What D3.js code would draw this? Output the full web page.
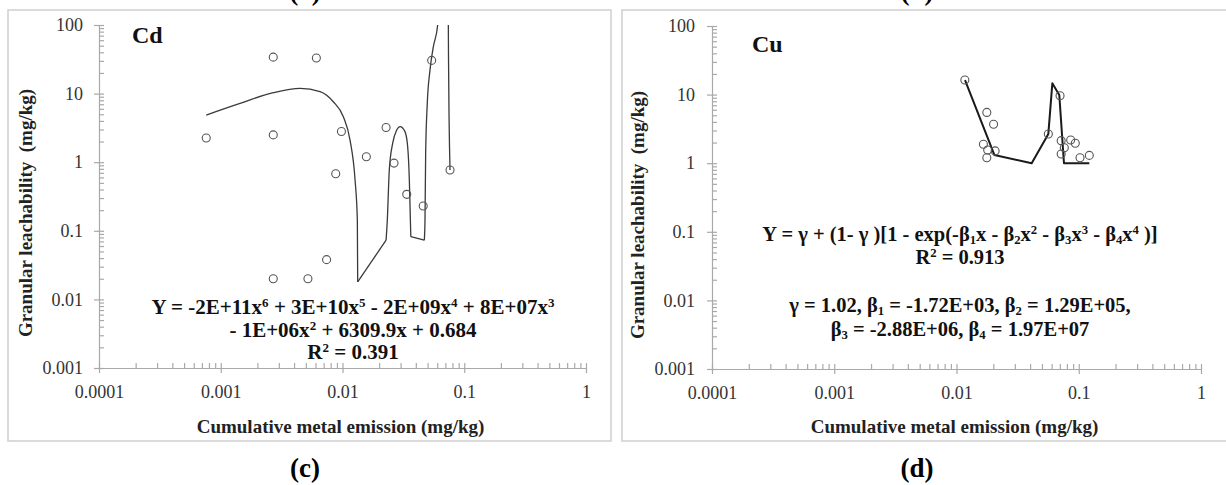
<!DOCTYPE html>
<html>
<head>
<meta charset="utf-8">
<script src="https://cdn.jsdelivr.net/npm/d3@7"></script>
<style>
  html, body { margin: 0; padding: 0; background: #fff; }
  svg { display: block; font-family: "Liberation Serif", "Times New Roman", serif; }
</style>
</head>
<body>
<svg id="chart" width="1226" height="485"></svg>
<script>
// ---- Cd: observed points (cumulative emission vs granular leachability, mg/kg)
const cdX = [0.00076, 0.0027, 0.0027, 0.0027, 0.0052, 0.0061, 0.0074, 0.0088,
             0.0098, 0.0157, 0.0228, 0.0265, 0.0337, 0.046, 0.054, 0.0764];
const cdY = [2.25, 2.5, 34, 0.02, 0.02, 33, 0.038, 0.68,
             2.8, 1.2, 3.2, 0.97, 0.34, 0.23, 30.5, 0.77];

// Cd polynomial trendline, in the three stretches where it stays positive
const cdFitA = [[0.00076, 4.87], [0.00144, 7.2], [0.0027, 10.3], [0.00448, 11.9],
                [0.00654, 10.7], [0.0084, 7.6], [0.01016, 4.6], [0.01153, 2.1],
                [0.01268, 0.55], [0.01324, 0.144], [0.01333, 0.018]];
const cdFitB = [[0.0228, 0.073], [0.02334, 0.144], [0.02423, 0.77], [0.02584, 1.9],
                [0.02787, 2.94], [0.0297, 3.3], [0.0326, 2.79], [0.0343, 1.68],
                [0.0354, 0.55], [0.0361, 0.144], [0.0364, 0.082]];
const cdFitC = [[0.047, 0.073], [0.0476, 0.144], [0.0482, 1.35], [0.0497, 7.2],
                [0.0523, 22], [0.0557, 48], [0.0605, 100], [0.064, 400],
                [0.071, 400], [0.074, 100], [0.0742, 38.6], [0.0751, 4.1], [0.0764, 0.77]];

// ---- Cu: observed points
const cuX = [0.0117, 0.0166, 0.0177, 0.0177, 0.018, 0.0201, 0.0207, 0.0564,
             0.0703, 0.0718, 0.0718, 0.0762, 0.0859, 0.0937, 0.1024, 0.122];
const cuY = [16.3, 1.89, 5.5, 1.2, 1.56, 3.69, 1.51, 2.67,
             9.6, 2.13, 1.36, 1.68, 2.18, 1.95, 1.2, 1.3];

// Cu model curve
const cuFit = [[0.01174, 16.3], [0.0204, 1.32], [0.0412, 1.0], [0.0564, 2.67],
               [0.0608, 14.6], [0.0693, 9.9], [0.0757, 1.0], [0.122, 1.0]];

// ---- Axis ticks
const xTickValues = [0.0001, 0.001, 0.01, 0.1, 1];
const xTickLabels = ["0.0001", "0.001", "0.01", "0.1", "1"];
const yTickValues = [0.001, 0.01, 0.1, 1, 10, 100];
const yTickLabels = ["0.001", "0.01", "0.1", "1", "10", "100"];

// ---- Text
const xTitle = "Cumulative metal emission (mg/kg)";
const yTitle = "Granular leachability  (mg/kg)";
const cdEquation = [
  "Y = -2E+11x^{6} + 3E+10x^{5} - 2E+09x^{4} + 8E+07x^{3}",
  "- 1E+06x^{2} + 6309.9x + 0.684",
  "R^{2} = 0.391"
];
const cuEquation = [
  "Y = γ + (1- γ )[1 - exp(-β_{1}x - β_{2}x^{2} - β_{3}x^{3} - β_{4}x^{4} )]",
  "R^{2} = 0.913",
  "",
  "γ = 1.02, β_{1} = -1.72E+03, β_{2} = 1.29E+05,",
  "β_{3} = -2.88E+06, β_{4} = 1.97E+07"
];

const svg = d3.select("#chart");

// minor ticks at 1..9 within each decade
function minorTicks(majors) {
  const out = [];
  for (let i = 0; i < majors.length - 1; i++)
    for (let k = 1; k <= 9; k++) out.push(majors[i] * k);
  out.push(majors[majors.length - 1]);
  return out;
}

// write a line with ^{sup} and _{sub} markup as tspans
function richText(textSel, str, fs) {
  const re = /(\^|_)\{([^}]*)\}/g;
  let last = 0, m, shift = 0;
  const add = (t, kind) => {
    if (!t) return;
    const target = kind === "^" ? -0.32 * fs : kind === "_" ? 0.14 * fs : 0;
    const ts = textSel.append("tspan").text(t).attr("dy", target - shift);
    if (kind) ts.attr("font-size", fs * 0.62);
    shift = target;
  };
  while ((m = re.exec(str)) !== null) {
    add(str.slice(last, m.index), null);
    add(m[2], m[1]);
    last = re.lastIndex;
  }
  add(str.slice(last), null);
}

function drawPanel(cfg) {
  const g = svg.append("g");

  // frame
  g.append("rect")
    .attr("x", cfg.box[0]).attr("y", cfg.box[1])
    .attr("width", cfg.box[2] - cfg.box[0]).attr("height", cfg.box[3] - cfg.box[1])
    .attr("fill", "none").attr("stroke", "#cfcfcf").attr("stroke-width", 1.5);

  const x = d3.scaleLog().domain([0.0001, 1]).range([cfg.left, cfg.right]);
  const y = d3.scaleLog().domain([0.001, 100]).range([cfg.bottom, cfg.top]);

  const axisColor = "#a9a9a9";
  const labelColor = "#333";

  // y axis: major ticks + labels on the outside, minor ticks inside
  const yMaj = g.append("g").attr("transform", `translate(${cfg.left},0)`)
    .call(d3.axisLeft(y).tickValues(yTickValues)
      .tickFormat((d, i) => yTickLabels[i]).tickSize(5).tickSizeOuter(0).tickPadding(cfg.yPad));
  const yMin = g.append("g").attr("transform", `translate(${cfg.left},0)`)
    .call(d3.axisRight(y).tickValues(minorTicks(yTickValues)).tickFormat("").tickSize(5).tickSizeOuter(0));
  yMin.select(".domain").remove();
  yMin.selectAll("text").remove();

  // x axis
  const xMaj = g.append("g").attr("transform", `translate(0,${cfg.bottom})`)
    .call(d3.axisBottom(x).tickValues(xTickValues)
      .tickFormat((d, i) => xTickLabels[i]).tickSize(5).tickSizeOuter(0).tickPadding(12));
  const xMin = g.append("g").attr("transform", `translate(0,${cfg.bottom})`)
    .call(d3.axisTop(x).tickValues(minorTicks(xTickValues)).tickFormat("").tickSize(5).tickSizeOuter(0));
  xMin.select(".domain").remove();
  xMin.selectAll("text").remove();

  [yMaj, yMin, xMaj, xMin].forEach(a => {
    a.selectAll("path,line").attr("stroke", axisColor).attr("stroke-width", 1.2);
    a.selectAll("text").attr("fill", labelColor).attr("font-size", 18)
      .attr("font-family", "Liberation Serif, serif");
  });

  // axis titles
  g.append("text")
    .attr("x", (cfg.left + cfg.right) / 2 - 2).attr("y", 433)
    .attr("text-anchor", "middle").attr("font-size", 19).attr("font-weight", "bold")
    .attr("fill", "#222").text(xTitle);
  g.append("text")
    .attr("transform", `translate(${cfg.yTitleX},${cfg.yTitleY}) rotate(-90)`)
    .attr("text-anchor", "middle").attr("font-size", 19).attr("font-weight", "bold")
    .attr("fill", "#222").style("white-space", "pre").text(yTitle);

  // metal symbol
  g.append("text").attr("x", cfg.nameX).attr("y", cfg.nameY)
    .attr("font-size", 24).attr("font-weight", "bold").attr("fill", "#111").text(cfg.name);

  // clip for curves
  const clipId = "clip-" + cfg.name;
  g.append("clipPath").attr("id", clipId).append("rect")
    .attr("x", cfg.left).attr("y", cfg.top)
    .attr("width", cfg.right - cfg.left).attr("height", cfg.bottom - cfg.top);
  const plot = g.append("g").attr("clip-path", `url(#${clipId})`);

  const smooth = d3.line().x(d => x(d[0])).y(d => y(d[1])).curve(d3.curveMonotoneX);
  const straight = d3.line().x(d => x(d[0])).y(d => y(d[1]));

  cfg.fitPieces.forEach((piece, i) => {
    plot.append("path").attr("d", cfg.fitSmooth ? smooth(piece) : straight(piece))
      .attr("fill", "none").attr("stroke", cfg.fitColor).attr("stroke-width", cfg.fitWidth)
      .attr("stroke-linejoin", "round");
    if (i > 0) {
      const prev = cfg.fitPieces[i - 1];
      plot.append("path").attr("d", straight([prev[prev.length - 1], piece[0]]))
        .attr("fill", "none").attr("stroke", cfg.fitColor).attr("stroke-width", cfg.fitWidth);
    }
  });

  // observations
  const pts = cfg.px.map((v, i) => [v, cfg.py[i]]);
  g.append("g").selectAll("circle").data(pts).join("circle")
    .attr("cx", d => x(d[0])).attr("cy", d => y(d[1])).attr("r", 4)
    .attr("fill", "none").attr("stroke", "#555").attr("stroke-width", 1.1);

  // equation block
  cfg.equation.forEach((line, i) => {
    if (!line) return;
    const t = g.append("text").attr("x", cfg.eqX).attr("y", cfg.eqY[i])
      .attr("text-anchor", "middle").attr("font-size", cfg.eqSize).attr("font-weight", "bold")
      .attr("fill", "#111");
    richText(t, line, cfg.eqSize);
  });

  // panel letters
  g.append("text").attr("x", cfg.letterX).attr("y", 477)
    .attr("text-anchor", "middle").attr("font-size", 27).attr("font-weight", "bold")
    .attr("fill", "#000").text(cfg.letter);
  g.append("text").attr("x", cfg.letterX).attr("y", 0)
    .attr("text-anchor", "middle").attr("font-size", 27).attr("font-weight", "bold")
    .attr("fill", "#000").text(cfg.topLetter);
}

drawPanel({
  name: "Cd", letter: "(c)", topLetter: "(a)", letterX: 305,
  box: [8, 10, 611, 441],
  left: 99, right: 586, top: 25, bottom: 368, yPad: 11,
  yTitleX: 32, yTitleY: 213, nameX: 132, nameY: 43,
  px: cdX, py: cdY,
  fitPieces: [cdFitA, cdFitB, cdFitC], fitSmooth: true, fitColor: "#3a3a3a", fitWidth: 1.3,
  equation: cdEquation, eqX: 353, eqY: [314, 337, 359], eqSize: 21
});

drawPanel({
  name: "Cu", letter: "(d)", topLetter: "(b)", letterX: 917,
  box: [622, 10, 1232, 441],
  left: 712, right: 1201, top: 26, bottom: 369, yPad: 12,
  yTitleX: 644, yTitleY: 215, nameX: 752, nameY: 52,
  px: cuX, py: cuY,
  fitPieces: [cuFit], fitSmooth: false, fitColor: "#1a1a1a", fitWidth: 2,
  equation: cuEquation, eqX: 960, eqY: [241, 264, 288, 312, 336], eqSize: 20.5
});
</script>
</body>
</html>
